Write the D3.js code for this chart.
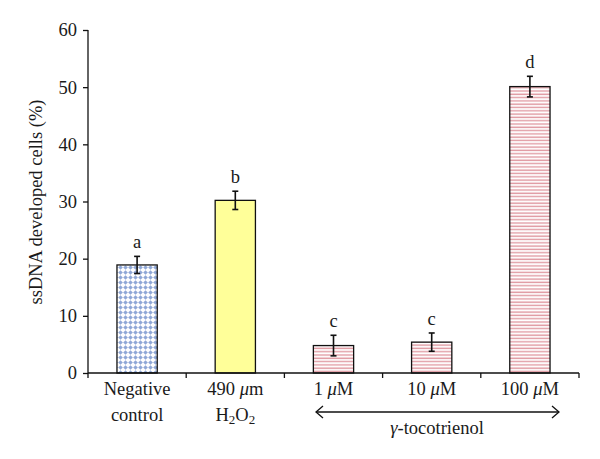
<!DOCTYPE html>
<html><head><meta charset="utf-8">
<script src="https://cdn.jsdelivr.net/npm/d3@7"></script>
<style>body{margin:0;background:#fff;} text{font-family:"Liberation Serif","DejaVu Serif",serif;fill:#1a1a1a;}</style>
</head><body><svg id="c" width="600" height="459"></svg>
<script>
const categories = ["neg", "h2o2", "t1", "t10", "t100"];
const values = [18.9, 30.2, 4.8, 5.4, 50.1];
const errors = [1.5, 1.6, 1.8, 1.6, 1.8];
const letters = ["a", "b", "c", "c", "d"];
const fills = ["url(#diam)", "#ffff99", "url(#stripe)", "url(#stripe)", "url(#stripe)"];
const yTicks = [0, 10, 20, 30, 40, 50, 60];

const svg = d3.select("#c");
const defs = svg.append("defs");
const pd = defs.append("pattern").attr("id","diam").attr("patternUnits","userSpaceOnUse")
  .attr("width",5).attr("height",5).attr("x",118).attr("y",0);
pd.append("rect").attr("width",5).attr("height",5).attr("fill","#fff");
pd.append("path").attr("d","M2.5,0.2 L4.8,2.5 L2.5,4.8 L0.2,2.5Z").attr("fill","#8fa7d6");
const ps = defs.append("pattern").attr("id","stripe").attr("patternUnits","userSpaceOnUse")
  .attr("width",6).attr("height",3.3);
ps.append("rect").attr("width",6).attr("height",3.3).attr("fill","#fff");
ps.append("rect").attr("y",1.2).attr("width",6).attr("height",1.4).attr("fill","#e09aa2");

const x = d3.scaleBand().domain(categories).range([88, 579]).paddingInner(0.59).paddingOuter(0.295);
const y = d3.scaleLinear().domain([0, 60]).range([373, 30]);
const fs = 18.5;

// bars
svg.selectAll("rect.bar").data(categories).enter().append("rect")
  .attr("x", d => x(d)).attr("width", x.bandwidth())
  .attr("y", (d,i) => y(values[i])).attr("height", (d,i) => y(0) - y(values[i]))
  .attr("fill", (d,i) => fills[i]).attr("stroke", "#111").attr("stroke-width", 1.3);

// error bars
categories.forEach((d,i) => {
  const cx = x(d) + x.bandwidth()/2;
  const g = svg.append("g").attr("stroke","#111").attr("stroke-width",1.6);
  g.append("line").attr("x1",cx).attr("x2",cx).attr("y1",y(values[i]+errors[i])).attr("y2",y(values[i]-errors[i]));
  g.append("line").attr("x1",cx-3).attr("x2",cx+3).attr("y1",y(values[i]+errors[i])).attr("y2",y(values[i]+errors[i]));
  g.append("line").attr("x1",cx-3).attr("x2",cx+3).attr("y1",y(values[i]-errors[i])).attr("y2",y(values[i]-errors[i]));
  svg.append("text").attr("x",cx).attr("y",y(values[i]+errors[i])-8).attr("text-anchor","middle")
    .attr("font-size",fs).text(letters[i]);
});

// y axis
const ya = svg.append("g").attr("transform","translate(88,0)")
  .call(d3.axisLeft(y).tickValues(yTicks).tickSize(5).tickPadding(6));
ya.select(".domain").attr("stroke","#111").attr("stroke-width",1.3).attr("d","M0,373V30");
ya.selectAll(".tick line").attr("stroke","#111").attr("stroke-width",1.3);
ya.selectAll(".tick text").attr("font-size",fs).attr("fill","#1a1a1a").attr("font-family","Liberation Serif, serif");

// x axis
const xa = svg.append("g").attr("transform","translate(0,373)");
xa.append("line").attr("x1",88).attr("x2",579).attr("stroke","#111").attr("stroke-width",1.3);
const bounds = categories.map(d => x(d) - x.step()*x.paddingInner()/2).concat([579]);
bounds.forEach(b => xa.append("line").attr("x1",b).attr("x2",b).attr("y1",0).attr("y2",5).attr("stroke","#111").attr("stroke-width",1.3));

function cxOf(d){return x(d)+x.bandwidth()/2;}
function lab(t, d, yy){ return svg.append("text").attr("x",cxOf(d)).attr("y",yy).attr("text-anchor","middle").attr("font-size",fs).text(t); }
lab("Negative","neg",395);
lab("control","neg",421);
const t1 = svg.append("text").attr("x",cxOf("h2o2")).attr("y",395).attr("text-anchor","middle").attr("font-size",fs);
t1.append("tspan").text("490 ");
t1.append("tspan").attr("font-style","italic").text("μ");
t1.append("tspan").text("m");
const t2 = svg.append("text").attr("x",cxOf("h2o2")).attr("y",421).attr("text-anchor","middle").attr("font-size",fs);
t2.append("tspan").text("H");
t2.append("tspan").attr("font-size",13).attr("dy",3).text("2");
t2.append("tspan").attr("dy",-3).text("O");
t2.append("tspan").attr("font-size",13).attr("dy",3).text("2");
["1 ","10 ","100 "].forEach((p,i) => {
  const t = svg.append("text").attr("x",cxOf(categories[i+2])).attr("y",395).attr("text-anchor","middle").attr("font-size",fs);
  t.append("tspan").text(p);
  t.append("tspan").attr("font-style","italic").text("μ");
  t.append("tspan").text("M");
});
// arrow
const ax1 = 316, ax2 = 559, ay = 412;
const ag = svg.append("g").attr("stroke","#111").attr("stroke-width",1.3).attr("fill","none");
ag.append("line").attr("x1",ax1).attr("x2",ax2).attr("y1",ay).attr("y2",ay);
ag.append("path").attr("d",`M${ax1+7},${ay-6}L${ax1},${ay}L${ax1+7},${ay+6}`);
ag.append("path").attr("d",`M${ax2-7},${ay-6}L${ax2},${ay}L${ax2-7},${ay+6}`);
const tg = svg.append("text").attr("x",437).attr("y",434).attr("text-anchor","middle").attr("font-size",fs);
tg.append("tspan").attr("font-style","italic").text("γ");
tg.append("tspan").text("-tocotrienol");

// y label
svg.append("text").attr("transform","translate(42,202) rotate(-90)").attr("text-anchor","middle")
  .attr("font-size",fs).text("ssDNA developed cells (%)");
</script></body></html>
